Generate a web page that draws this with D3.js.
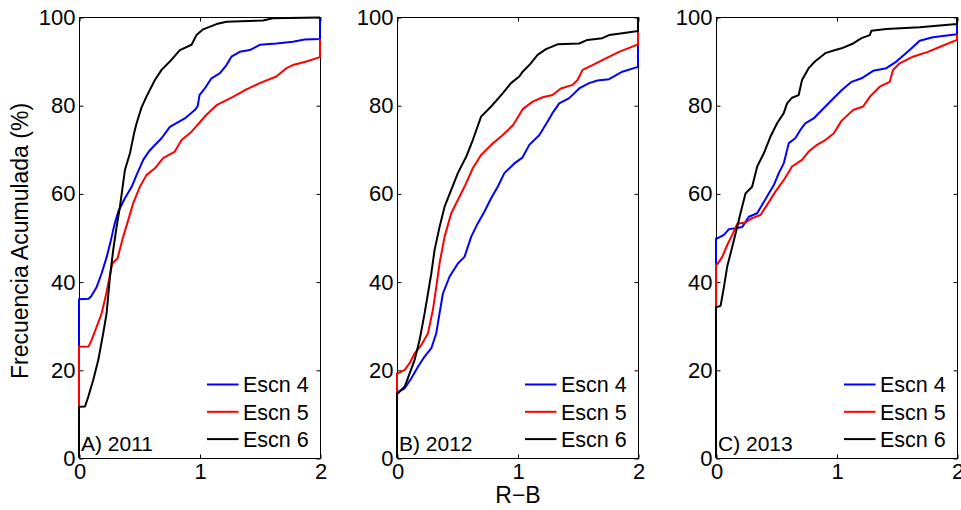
<!DOCTYPE html>
<html>
<head>
<meta charset="utf-8">
<script src="https://cdn.jsdelivr.net/npm/d3@7"></script>
<style>
  body { margin: 0; background: #fff; }
  text { font-family: Arial, "Liberation Sans", sans-serif; fill: #000; }
</style>
</head>
<body>
<svg id="chart" width="961" height="510"></svg>
<script>
// labels and ticks
var panelLabels = ["A) 2011", "B) 2012", "C) 2013"];
var seriesNames = ["Escn 4", "Escn 5", "Escn 6"];
var seriesColors = ["#0000ff", "#ff0000", "#000000"];
var xTicks = [0, 1, 2];
var yTicks = [0, 20, 40, 60, 80, 100];

// cumulative frequency curves: [R-B, %]
var esc4_2011 = [[0,0],[0,36.0],[0.08,36.1],[0.1,36.6],[0.147,38.8],[0.188,41.9],[0.23,45.6],[0.265,49.4],[0.293,52.8],[0.326,55.9],[0.381,58.9],[0.437,61.5],[0.478,64.2],[0.533,67.6],[0.588,69.8],[0.685,72.5],[0.754,75.1],[0.878,77.0],[0.961,78.9],[0.985,79.8],[1.0,82.3],[1.044,83.8],[1.099,86.1],[1.168,87.2],[1.224,89.1],[1.265,91.0],[1.334,92.1],[1.417,92.5],[1.5,93.7],[1.638,94.0],[1.775,94.4],[1.872,94.9],[2,95.0],[2,100]];
var esc5_2011 = [[0,0],[0,25.2],[0.08,25.3],[0.105,26.8],[0.147,29.8],[0.188,32.8],[0.221,36.6],[0.249,40.4],[0.276,44.1],[0.32,45.3],[0.367,50.2],[0.409,54.0],[0.45,57.8],[0.505,61.5],[0.561,64.2],[0.63,65.7],[0.698,68.0],[0.795,69.5],[0.851,72.1],[0.934,74.0],[1.05,77.6],[1.141,80.0],[1.278,81.9],[1.389,83.6],[1.5,85.0],[1.638,86.5],[1.721,88.4],[1.775,89.1],[1.886,89.9],[2,90.9],[2,95.0]];
var esc6_2011 = [[0,0],[0,11.6],[0.05,11.7],[0.077,13.9],[0.118,17.7],[0.16,22.2],[0.201,28.3],[0.229,32.8],[0.257,41.1],[0.284,47.2],[0.312,52.4],[0.34,57.0],[0.381,65.3],[0.423,69.1],[0.46,74.0],[0.478,75.9],[0.519,79.5],[0.561,82.0],[0.63,85.7],[0.685,88.0],[0.754,89.9],[0.837,92.5],[0.934,93.7],[0.975,95.9],[1.03,97.2],[1.141,98.4],[1.224,98.9],[1.527,99.2],[1.61,99.7],[2,99.9],[2,100]];

var esc4_2012 = [[0,0],[0,15.0],[0.008,15.0],[0.064,15.8],[0.119,18.1],[0.174,20.7],[0.229,23.0],[0.285,24.9],[0.326,28.3],[0.353,32.8],[0.381,37.3],[0.436,41.1],[0.505,44.1],[0.56,45.6],[0.616,50.2],[0.67,53.2],[0.726,55.9],[0.781,58.9],[0.836,61.5],[0.891,64.6],[0.974,66.8],[1.04,68.1],[1.098,71.0],[1.18,73.2],[1.25,76.3],[1.29,78.2],[1.346,80.4],[1.429,81.6],[1.512,83.8],[1.594,85.0],[1.663,85.6],[1.76,85.9],[1.87,87.6],[2,88.7],[2,100]];
var esc5_2012 = [[0,0],[0,19.2],[0.008,19.2],[0.064,20.0],[0.105,21.5],[0.146,23.7],[0.202,25.6],[0.257,28.3],[0.298,33.6],[0.326,38.8],[0.353,44.1],[0.395,50.2],[0.45,55.5],[0.505,58.5],[0.56,61.5],[0.629,65.7],[0.698,68.7],[0.781,71.0],[0.864,72.9],[0.96,75.4],[0.988,76.6],[1.043,79.1],[1.126,80.8],[1.209,81.8],[1.29,82.3],[1.36,83.8],[1.457,84.6],[1.498,85.7],[1.54,88.0],[1.622,89.1],[1.733,90.6],[1.843,92.1],[2,93.8],[2,100]];
var esc6_2012 = [[0,0],[0,14.7],[0.008,14.7],[0.064,16.2],[0.105,19.2],[0.146,22.2],[0.188,26.8],[0.229,32.8],[0.257,37.3],[0.285,41.9],[0.312,47.2],[0.353,52.4],[0.395,57.0],[0.45,60.8],[0.505,64.6],[0.574,68.3],[0.629,72.1],[0.698,77.4],[0.781,79.7],[0.877,82.7],[0.946,85.0],[1.015,86.5],[1.043,87.6],[1.098,89.1],[1.167,91.4],[1.236,92.7],[1.332,93.8],[1.512,94.0],[1.58,94.8],[1.704,95.2],[1.76,95.9],[1.87,96.3],[2,96.8],[2,100]];

var esc4_2013 = [[0,0],[0,49.8],[0.01,49.8],[0.066,50.6],[0.107,51.9],[0.162,52.1],[0.218,52.4],[0.273,54.7],[0.342,55.5],[0.383,57.4],[0.438,60.0],[0.48,61.9],[0.521,64.6],[0.562,66.8],[0.604,71.4],[0.658,72.5],[0.7,74.4],[0.741,75.9],[0.81,77.0],[0.879,78.9],[0.955,81.0],[1.042,83.4],[1.125,85.3],[1.208,86.1],[1.304,87.8],[1.414,88.4],[1.497,89.9],[1.607,92.5],[1.69,94.6],[1.8,95.4],[2,96.1],[2,100]];
var esc5_2013 = [[0,0],[0,43.9],[0.01,43.9],[0.052,45.6],[0.093,48.3],[0.135,50.6],[0.176,53.1],[0.245,53.4],[0.3,54.4],[0.369,55.1],[0.424,57.4],[0.493,60.4],[0.562,63.0],[0.631,66.1],[0.714,67.6],[0.769,69.5],[0.838,71.0],[0.907,72.1],[0.976,73.6],[1.043,76.5],[1.138,78.9],[1.221,79.7],[1.276,81.9],[1.359,84.2],[1.442,85.3],[1.469,88.0],[1.524,89.5],[1.634,91.0],[1.758,92.1],[1.855,93.2],[2,94.8],[2,96.1]];
var esc6_2013 = [[0,0],[0,34.2],[0.038,34.5],[0.066,38.8],[0.093,43.4],[0.135,47.9],[0.176,52.4],[0.203,55.5],[0.245,60.0],[0.3,61.5],[0.342,66.1],[0.397,69.1],[0.452,72.9],[0.507,75.9],[0.562,78.2],[0.59,80.4],[0.631,81.7],[0.686,82.3],[0.714,85.7],[0.769,88.4],[0.821,89.9],[0.907,91.8],[0.99,92.5],[1.042,92.9],[1.138,94.0],[1.208,95.2],[1.276,95.9],[1.29,96.9],[1.414,97.3],[1.69,97.7],[2,98.4],[2,100]];

var panelSeries = [
    [esc4_2011, esc5_2011, esc6_2011],
    [esc4_2012, esc5_2012, esc6_2012],
    [esc4_2013, esc5_2013, esc6_2013]
];

// layout
var panelLeft = [79, 397, 716];
var panelWidth = 241;
var plotTop = 17, plotBottom = 458;

var svg = d3.select("#chart");

var y = d3.scaleLinear().domain([0, 100]).range([plotBottom, plotTop]);

panelSeries.forEach(function(series, p) {
    var left = panelLeft[p];
    var right = left + panelWidth;
    var x = d3.scaleLinear().domain([0, 2]).range([left, right]);

    var g = svg.append("g");

    // box
    g.append("rect")
        .attr("x", left + 0.5).attr("y", plotTop + 0.5)
        .attr("width", panelWidth).attr("height", plotBottom - plotTop)
        .attr("fill", "none").attr("stroke", "#000").attr("stroke-width", 1);

    // axes with inward ticks
    var xb = g.append("g").attr("transform", "translate(0.5," + (plotBottom + 0.5) + ")")
        .call(d3.axisBottom(x).tickValues(xTicks).tickFormat(d3.format("d"))
            .tickSizeInner(-4).tickSizeOuter(0).tickPadding(5));
    var xt = g.append("g").attr("transform", "translate(0.5," + (plotTop + 0.5) + ")")
        .call(d3.axisTop(x).tickValues(xTicks).tickSizeInner(-4).tickSizeOuter(0).tickFormat(""));
    var yl = g.append("g").attr("transform", "translate(" + (left + 0.5) + ",0.5)")
        .call(d3.axisLeft(y).tickValues(yTicks).tickFormat(d3.format("d"))
            .tickSizeInner(-4).tickSizeOuter(0).tickPadding(4));
    var yr = g.append("g").attr("transform", "translate(" + (right + 0.5) + ",0.5)")
        .call(d3.axisRight(y).tickValues(yTicks).tickSizeInner(-4).tickSizeOuter(0).tickFormat(""));

    [xb, xt, yl, yr].forEach(function(a) {
        a.select(".domain").remove();
        a.selectAll("line").attr("stroke", "#000");
        a.selectAll("text").style("font-size", "22px").style("font-family", "Arial, 'Liberation Sans', sans-serif");
    });

    // curves
    var line = d3.line()
        .x(function(d) { return x(d[0]); })
        .y(function(d) { return y(d[1]); });

    series.forEach(function(s, i) {
        g.append("path")
            .datum(s)
            .attr("d", line)
            .attr("fill", "none")
            .attr("stroke", seriesColors[i])
            .attr("stroke-width", 2)
            .attr("stroke-linejoin", "round");
    });

    // panel label
    g.append("text")
        .attr("x", left + 2).attr("y", 451)
        .style("font-size", "21px")
        .text(panelLabels[p]);

    // legend
    seriesNames.forEach(function(name, i) {
        var ly = 384.5 + i * 27.3;
        g.append("line")
            .attr("x1", right - 113).attr("x2", right - 81.5)
            .attr("y1", ly).attr("y2", ly)
            .attr("stroke", seriesColors[i]).attr("stroke-width", 2);
        g.append("text")
            .attr("x", right - 77).attr("y", ly).attr("dy", "0.36em")
            .style("font-size", "21.5px")
            .text(name);
    });
});

// axis titles
svg.append("text")
    .attr("transform", "translate(28,241) rotate(-90)")
    .attr("text-anchor", "middle")
    .style("font-size", "23px")
    .text("Frecuencia Acumulada (%)");

svg.append("text")
    .attr("x", 518).attr("y", 503)
    .attr("text-anchor", "middle")
    .style("font-size", "23px")
    .text("R\u2212B");
</script>
</body>
</html>
